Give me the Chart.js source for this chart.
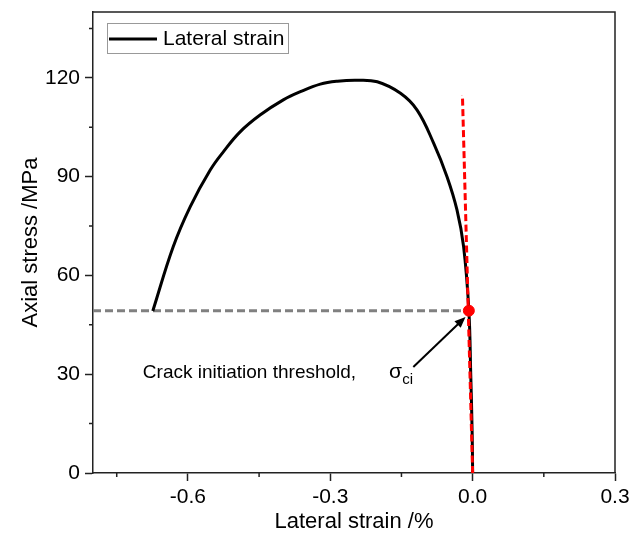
<!DOCTYPE html>
<html lang="en">
<head>
<meta charset="UTF-8">
<title>Axial stress vs lateral strain</title>
<script src="https://cdn.jsdelivr.net/npm/chart.js"></script>
<style>
  html, body { margin: 0; padding: 0; background: #fff; }
  .wrap { position: relative; width: 632px; height: 535px; }
</style>
</head>
<body>
<div class="wrap"><canvas id="chart"></canvas></div>
<script>
  // lateral strain (%) and axial stress (MPa)
  const strain = [-0.674, -0.631, -0.595, -0.553, -0.525, -0.490, -0.448, -0.399, -0.363, -0.321,
                  -0.285, -0.244, -0.201, -0.152, -0.117, -0.082, -0.054, -0.033, -0.019, -0.008,
                  -0.004, -0.001, 0.0];
  const stress = [49.2, 68.7, 80.9, 92.0, 97.6, 103.6, 108.7, 113.3, 115.8, 118.1,
                  119.0, 119.3, 118.8, 115.3, 110.2, 100.1, 90.0, 79.9, 68.7, 49.5,
                  30.0, 12.0, 0.0];

  // crack initiation threshold and the linear (tangent) reference line
  const ciStrain = -0.008;
  const ciStress = 49.3;
  const tangentStrain = [0.0, -0.0215];
  const tangentStress = [0.0, 114.8];
  const arrowFrom = { x: -0.125, y: 32.2 };
  const arrowTo = { x: -0.015, y: 47.4 };
  const labelAt = { x: -0.695, y: 28.8 };
  const sigmaAt = { x: -0.176, y: 28.8 };

  const xTicks = [-0.6, -0.3, 0.0, 0.3];
  const xMinor = [-0.75, -0.45, -0.15, 0.15];
  const yTicks = [0, 30, 60, 90, 120];
  const yMinor = [15, 45, 75, 105, 135];

  const FONT = "'Liberation Sans', Arial, sans-serif";
  const AXIS = '#222';

  const toPts = (xs, ys) => xs.map((v, i) => ({ x: v, y: ys[i] }));

  const extras = {
    id: 'extras',
    afterDraw(chart) {
      const { ctx, chartArea: a, scales: { x, y } } = chart;
      ctx.save();

      // top and right frame
      ctx.strokeStyle = AXIS;
      ctx.lineWidth = 1.5;
      ctx.beginPath();
      ctx.moveTo(a.left, a.top);
      ctx.lineTo(a.right, a.top);
      ctx.lineTo(a.right, a.bottom);
      ctx.stroke();

      // minor ticks
      ctx.beginPath();
      xMinor.forEach(v => {
        const px = x.getPixelForValue(v);
        ctx.moveTo(px, a.bottom);
        ctx.lineTo(px, a.bottom + 4);
      });
      yMinor.forEach(v => {
        const py = y.getPixelForValue(v);
        ctx.moveTo(a.left, py);
        ctx.lineTo(a.left - 4, py);
      });
      ctx.stroke();

      // legend box
      const lx = a.left + 14, ly = a.top + 11;
      ctx.lineWidth = 1;
      ctx.strokeStyle = '#999';
      ctx.strokeRect(lx + 0.5, ly + 0.5, 181, 30);
      ctx.strokeStyle = '#000';
      ctx.lineWidth = 3;
      ctx.beginPath();
      ctx.moveTo(lx + 2, ly + 16);
      ctx.lineTo(lx + 50, ly + 16);
      ctx.stroke();
      ctx.fillStyle = '#000';
      ctx.font = '21px ' + FONT;
      ctx.textBaseline = 'middle';
      ctx.fillText(chart.data.datasets[1].label, lx + 56, ly + 16);

      // arrow to the threshold point
      const x0 = x.getPixelForValue(arrowFrom.x), y0 = y.getPixelForValue(arrowFrom.y);
      const x1 = x.getPixelForValue(arrowTo.x), y1 = y.getPixelForValue(arrowTo.y);
      const ang = Math.atan2(y1 - y0, x1 - x0);
      ctx.lineWidth = 2;
      ctx.beginPath();
      ctx.moveTo(x0, y0);
      ctx.lineTo(x1 - 8 * Math.cos(ang), y1 - 8 * Math.sin(ang));
      ctx.stroke();
      ctx.beginPath();
      ctx.moveTo(x1, y1);
      ctx.lineTo(x1 - 11 * Math.cos(ang) + 4.5 * Math.sin(ang), y1 - 11 * Math.sin(ang) - 4.5 * Math.cos(ang));
      ctx.lineTo(x1 - 11 * Math.cos(ang) - 4.5 * Math.sin(ang), y1 - 11 * Math.sin(ang) + 4.5 * Math.cos(ang));
      ctx.closePath();
      ctx.fill();

      // annotation text
      ctx.textBaseline = 'alphabetic';
      ctx.font = '19px ' + FONT;
      ctx.fillText('Crack initiation threshold,', x.getPixelForValue(labelAt.x), y.getPixelForValue(labelAt.y));
      const sx = x.getPixelForValue(sigmaAt.x), sy = y.getPixelForValue(sigmaAt.y);
      ctx.font = '21px ' + FONT;
      ctx.fillText('σ', sx, sy);
      ctx.font = '15px ' + FONT;
      ctx.fillText('ci', sx + ctx.measureText('σ').width + 4, sy + 6);

      ctx.restore();
    }
  };

  new Chart(document.getElementById('chart'), {
    type: 'scatter',
    data: {
      datasets: [
        {
          label: 'threshold level',
          data: toPts([-0.8, ciStrain], [ciStress, ciStress]),
          showLine: true,
          borderColor: '#808080',
          borderWidth: 3,
          borderDash: [8, 4],
          pointRadius: 0,
          order: 3
        },
        {
          label: 'Lateral strain',
          data: toPts(strain, stress),
          showLine: true,
          borderColor: '#000',
          borderWidth: 3,
          tension: 0.4,
          pointRadius: 0,
          order: 2
        },
        {
          label: 'tangent',
          data: toPts(tangentStrain, tangentStress),
          showLine: true,
          borderColor: '#ff0000',
          borderWidth: 3,
          borderDash: [7, 3.5],
          pointRadius: 0,
          order: 1
        },
        {
          label: 'crack initiation',
          data: [{ x: ciStrain, y: ciStress }],
          pointRadius: 5.5,
          pointBackgroundColor: '#ff0000',
          pointBorderColor: '#ff0000',
          order: 0
        }
      ]
    },
    options: {
      responsive: true,
      maintainAspectRatio: false,
      animation: false,
      layout: { padding: { left: 0, top: 12, right: 17, bottom: 0 } },
      plugins: {
        legend: { display: false },
        tooltip: { enabled: false }
      },
      scales: {
        x: {
          type: 'linear',
          min: -0.8,
          max: 0.3,
          afterBuildTicks: s => { s.ticks = xTicks.map(v => ({ value: v })); },
          afterFit: s => { s.height = 62; s.paddingLeft = 0; s.paddingRight = 0; },
          ticks: {
            color: '#000',
            font: { family: FONT, size: 21 },
            padding: 4,
            maxRotation: 0,
            callback: v => v.toFixed(1)
          },
          grid: { drawOnChartArea: false, drawTicks: true, tickLength: 8, tickColor: AXIS, tickWidth: 1.5 },
          border: { display: true, color: AXIS, width: 1.5 },
          title: {
            display: true,
            text: 'Lateral strain /%',
            color: '#000',
            font: { family: FONT, size: 22 },
            padding: { top: 0, bottom: 0 }
          }
        },
        y: {
          type: 'linear',
          min: 0,
          max: 140,
          afterBuildTicks: s => { s.ticks = yTicks.map(v => ({ value: v })); },
          afterFit: s => { s.width = 93; s.paddingTop = 0; s.paddingBottom = 0; },
          ticks: {
            color: '#000',
            font: { family: FONT, size: 21 },
            padding: 5
          },
          grid: { drawOnChartArea: false, drawTicks: true, tickLength: 8, tickColor: AXIS, tickWidth: 1.5 },
          border: { display: true, color: AXIS, width: 1.5 },
          title: {
            display: true,
            text: 'Axial stress /MPa',
            color: '#000',
            font: { family: FONT, size: 22 },
            padding: { top: 18, bottom: 0 }
          }
        }
      }
    },
    plugins: [extras]
  });
</script>
</body>
</html>
